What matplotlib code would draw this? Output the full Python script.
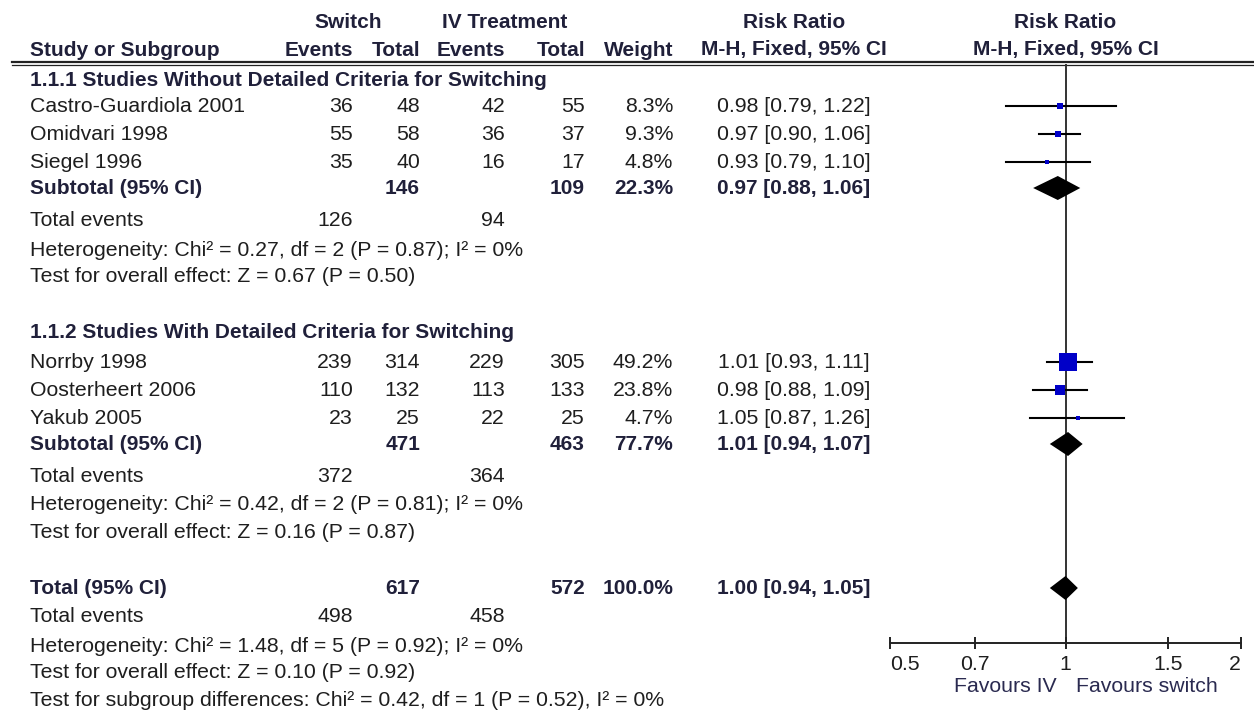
import matplotlib.pyplot as plt
import matplotlib.ticker as mticker

plt.rcParams["font.family"] = ["Liberation Sans", "DejaVu Sans"]

# ── data ──────────────────────────────────────────────────────────────────────
groups = ["1.1.1 Studies Without Detailed Criteria for Switching",
          "1.1.2 Studies With Detailed Criteria for Switching"]
studies = [["Castro-Guardiola 2001", "Omidvari 1998", "Siegel 1996"],
           ["Norrby 1998", "Oosterheert 2006", "Yakub 2005"]]
ev_switch = [[36, 55, 35], [239, 110, 23]]
n_switch = [[48, 58, 40], [314, 132, 25]]
ev_iv = [[42, 36, 16], [229, 113, 22]]
n_iv = [[55, 37, 17], [305, 133, 25]]
weight = [[8.3, 9.3, 4.8], [49.2, 23.8, 4.7]]
rr = [[0.98, 0.97, 0.93], [1.01, 0.98, 1.05]]
rr_lo = [[0.79, 0.90, 0.79], [0.93, 0.88, 0.87]]
rr_hi = [[1.22, 1.06, 1.10], [1.11, 1.09, 1.26]]

sub_weight = [22.3, 77.7]
sub_rr = [0.97, 1.01]
sub_lo = [0.88, 0.94]
sub_hi = [1.06, 1.07]
sub_chi = [0.27, 0.42]
sub_df = [2, 2]
sub_p_het = [0.87, 0.81]
sub_i2 = [0, 0]
sub_z = [0.67, 0.16]
sub_p_z = [0.50, 0.87]

tot_weight = 100.0
tot_rr, tot_lo, tot_hi = 1.00, 0.94, 1.05
tot_chi, tot_df, tot_p_het, tot_i2 = 1.48, 5, 0.92, 0
tot_z, tot_p_z = 0.10, 0.92
sg_chi, sg_df, sg_p, sg_i2 = 0.42, 1, 0.52, 0

ticks = [0.5, 0.7, 1, 1.5, 2]
tick_labels = ["0.5", "0.7", "1", "1.5", "2"]

# ── layout (pixels) ───────────────────────────────────────────────────────────
W, H = 1254, 715
FS = 15.3      # regular text
FSB = 15.0     # bold text
TXT = "#1e1e1e"
BOLD = "#20203a"
BLUE = "#0000c8"

X_NAME = 30
X_EVS, X_NS, X_EVI, X_NI, X_W = 353, 420, 505, 585, 673
X_RR = 794
FOREST_L, FOREST_R = 890, 1241
AXIS_Y = 643

group_y = [80, 333]
study_y = [[106, 134, 162], [362, 390, 418]]
sub_y = [188, 444]
events_y = [220, 476]
het_y = [250, 505]
test_y = [277, 533]
tot_y = 588
tot_events_y, tot_het_y, tot_test_y, sg_y = 617, 646, 673, 700

fig = plt.figure(figsize=(W / 100, H / 100), dpi=100, facecolor="white")
tab = fig.add_axes([0, 0, 1, 1])
tab.set_xlim(0, W)
tab.set_ylim(H, 0)
tab.axis("off")


def put(x, y, s, ha="left", bold=False):
    tab.text(x, y, s, ha=ha, va="center", fontsize=FSB if bold else FS,
             fontweight="bold" if bold else "normal",
             color=BOLD if bold else TXT)


# header
put(348, 22, "Switch", "center", True)
put(505, 22, "IV Treatment", "center", True)
put(X_RR, 22, "Risk Ratio", "center", True)
put((FOREST_L + FOREST_R) / 2, 22, "Risk Ratio", "center", True)
put(X_NAME, 50, "Study or Subgroup", bold=True)
for x, s in zip([X_EVS, X_NS, X_EVI, X_NI, X_W], ["Events", "Total", "Events", "Total", "Weight"]):
    put(x, 50, s, "right", True)
put(X_RR, 50, "M-H, Fixed, 95% CI", "center", True)
put((FOREST_L + FOREST_R) / 2, 50, "M-H, Fixed, 95% CI", "center", True)
tab.plot([12, W], [61.5, 61.5], color="#222222", lw=1.6)
tab.plot([12, W], [64.5, 64.5], color="#222222", lw=0.9)

# forest axes: x in RR (log), y in pixels
fax = fig.add_axes([FOREST_L / W, (H - AXIS_Y) / H, (FOREST_R - FOREST_L) / W, AXIS_Y / H])
fax.set_xscale("log")
fax.set_xlim(0.5, 2)
fax.set_ylim(AXIS_Y, 0)
fax.patch.set_alpha(0)
for sp in ["top", "left", "right"]:
    fax.spines[sp].set_visible(False)
fax.spines["bottom"].set_linewidth(1.4)
fax.spines["bottom"].set_color("#222222")
fax.xaxis.set_major_locator(mticker.FixedLocator(ticks))
fax.xaxis.set_major_formatter(mticker.FixedFormatter(tick_labels))
fax.xaxis.set_minor_locator(mticker.NullLocator())
fax.tick_params(axis="x", direction="inout", length=9, width=1.4, color="#222222",
                labelsize=FS, labelcolor=TXT, pad=4)
fax.set_yticks([])
lbls = fax.get_xticklabels()
lbls[0].set_ha("left")
lbls[-1].set_ha("right")
fax.vlines(1, 64, AXIS_Y, color="#333333", lw=1.4, zorder=1)
fax.annotate("Favours IV", xy=(1, AXIS_Y), xytext=(-9, -43), textcoords="offset pixels",
             ha="right", va="center", fontsize=FS, color="#2a2a50", annotation_clip=False)
fax.annotate("Favours switch", xy=(1, AXIS_Y), xytext=(11, -43), textcoords="offset pixels",
             ha="left", va="center", fontsize=FS, color="#2a2a50", annotation_clip=False)


def diamond(y, est, lo, hi):
    fax.fill([lo, est, hi, est], [y, y - 12, y, y + 12], color="black", lw=0,
             zorder=4, clip_on=False)


for g in range(2):
    put(X_NAME, group_y[g], groups[g], bold=True)
    for i, name in enumerate(studies[g]):
        y = study_y[g][i]
        put(X_NAME, y, name)
        put(X_EVS, y, str(ev_switch[g][i]), "right")
        put(X_NS, y, str(n_switch[g][i]), "right")
        put(X_EVI, y, str(ev_iv[g][i]), "right")
        put(X_NI, y, str(n_iv[g][i]), "right")
        put(X_W, y, f"{weight[g][i]:.1f}%", "right")
        put(X_RR, y, f"{rr[g][i]:.2f} [{rr_lo[g][i]:.2f}, {rr_hi[g][i]:.2f}]", "center")
        fax.plot([rr_lo[g][i], rr_hi[g][i]], [y, y], color="black", lw=1.5, zorder=2,
                 clip_on=False)
        side = 3.5 + 0.29 * weight[g][i]
        fax.plot(rr[g][i], y, marker="s", ms=side * 0.72, color=BLUE, mec=BLUE,
                 mew=0, zorder=3, clip_on=False)
    y = sub_y[g]
    put(X_NAME, y, "Subtotal (95% CI)", bold=True)
    put(X_NS, y, str(sum(n_switch[g])), "right", True)
    put(X_NI, y, str(sum(n_iv[g])), "right", True)
    put(X_W, y, f"{sub_weight[g]:.1f}%", "right", True)
    put(X_RR, y, f"{sub_rr[g]:.2f} [{sub_lo[g]:.2f}, {sub_hi[g]:.2f}]", "center", True)
    diamond(y, sub_rr[g], sub_lo[g], sub_hi[g])
    put(X_NAME, events_y[g], "Total events")
    put(X_EVS, events_y[g], str(sum(ev_switch[g])), "right")
    put(X_EVI, events_y[g], str(sum(ev_iv[g])), "right")
    put(X_NAME, het_y[g], f"Heterogeneity: Chi² = {sub_chi[g]:.2f}, df = {sub_df[g]} "
        f"(P = {sub_p_het[g]:.2f}); I² = {sub_i2[g]}%")
    put(X_NAME, test_y[g], f"Test for overall effect: Z = {sub_z[g]:.2f} (P = {sub_p_z[g]:.2f})")

# overall
put(X_NAME, tot_y, "Total (95% CI)", bold=True)
put(X_NS, tot_y, str(sum(map(sum, n_switch))), "right", True)
put(X_NI, tot_y, str(sum(map(sum, n_iv))), "right", True)
put(X_W, tot_y, f"{tot_weight:.1f}%", "right", True)
put(X_RR, tot_y, f"{tot_rr:.2f} [{tot_lo:.2f}, {tot_hi:.2f}]", "center", True)
diamond(tot_y, tot_rr, tot_lo, tot_hi)
put(X_NAME, tot_events_y, "Total events")
put(X_EVS, tot_events_y, str(sum(map(sum, ev_switch))), "right")
put(X_EVI, tot_events_y, str(sum(map(sum, ev_iv))), "right")
put(X_NAME, tot_het_y, f"Heterogeneity: Chi² = {tot_chi:.2f}, df = {tot_df} "
    f"(P = {tot_p_het:.2f}); I² = {tot_i2}%")
put(X_NAME, tot_test_y, f"Test for overall effect: Z = {tot_z:.2f} (P = {tot_p_z:.2f})")
put(X_NAME, sg_y, f"Test for subgroup differences: Chi² = {sg_chi:.2f}, df = {sg_df} "
    f"(P = {sg_p:.2f}), I² = {sg_i2}%")

fig.savefig("out.png", dpi=100, facecolor="white")
